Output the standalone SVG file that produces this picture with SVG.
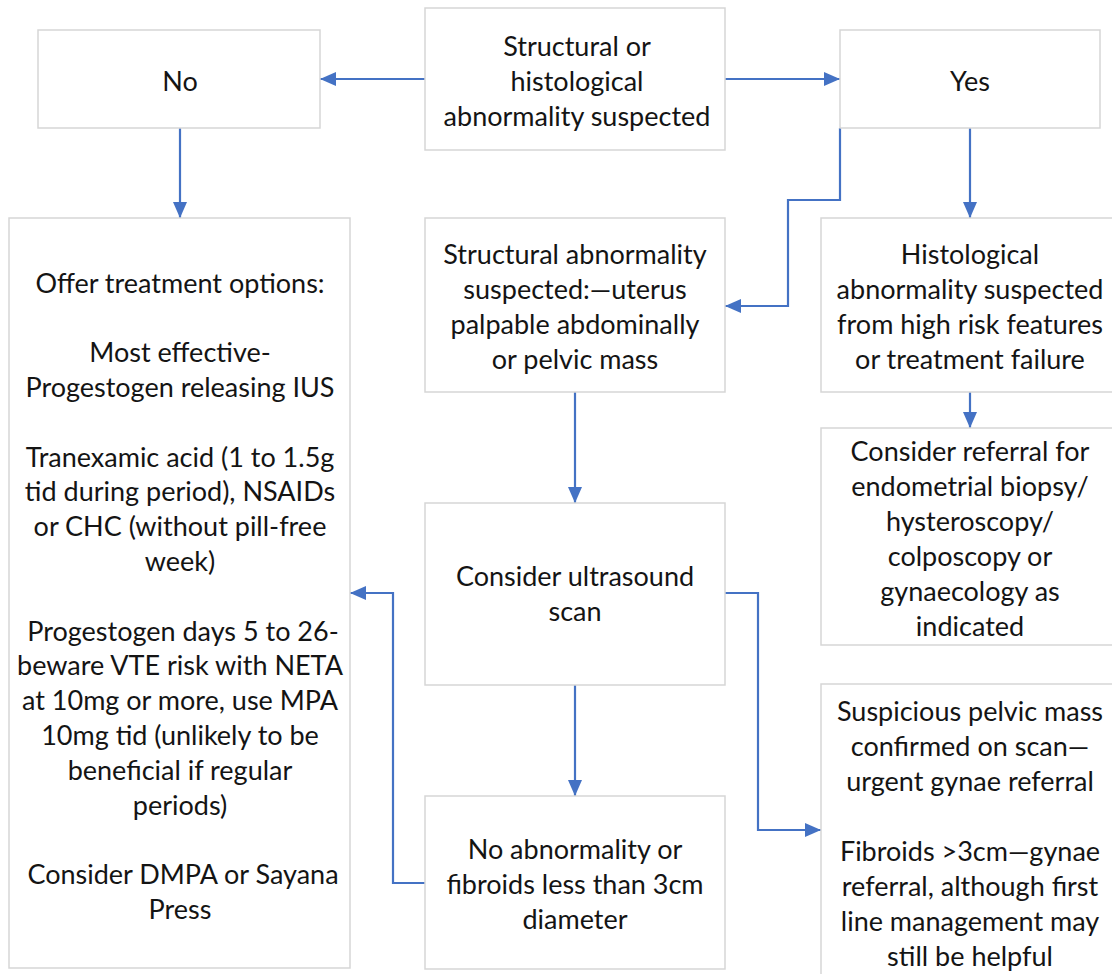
<svg xmlns="http://www.w3.org/2000/svg" width="1112" height="974" viewBox="0 0 1112 974">
<defs>
<style>
.box{fill:#ffffff;stroke:#d6d6d6;stroke-width:1.5}
.t{font-family:Lato,"Liberation Sans",sans-serif;font-size:27px;fill:#141414;text-anchor:middle;dominant-baseline:central}
.c{fill:none;stroke:#4472c4;stroke-width:2.2;marker-end:url(#ah)}
</style>
<marker id="ah" viewBox="0 0 16 14" refX="16" refY="7" markerWidth="16" markerHeight="14" markerUnits="userSpaceOnUse" orient="auto">
<path d="M0,0 L16,7 L0,14 z" fill="#4472c4"/>
</marker>
</defs>
<rect width="1112" height="974" fill="#ffffff"/>
<g id="connectors">
<path class="c" d="M425,79 H320"/>
<path class="c" d="M725,79 H840"/>
<path class="c" d="M180,128 V218"/>
<path class="c" d="M970,128 V218"/>
<path class="c" d="M840,128 V200 H788 V306 H725"/>
<path class="c" d="M575,392 V503"/>
<path class="c" d="M575,685 V796"/>
<path class="c" d="M970,392 V428"/>
<path class="c" d="M425,883 H393 V593 H350"/>
<path class="c" d="M725,593 H758 V830 H821"/>
</g>
<g id="n-start">
<rect class="box" x="425" y="8" width="300" height="142"/>
<text class="t" x="577" y="45">Structural or</text>
<text class="t" x="577" y="80">histological</text>
<text class="t" x="577" y="115">abnormality suspected</text>
</g>
<g id="n-no">
<rect class="box" x="38" y="30" width="282" height="98"/>
<text class="t" x="180" y="80">No</text>
</g>
<g id="n-yes">
<rect class="box" x="840" y="30" width="260" height="98"/>
<text class="t" x="970" y="80">Yes</text>
</g>
<g id="n-treatment">
<rect class="box" x="9" y="218" width="341" height="750"/>
<text class="t" x="180" y="282">Offer treatment options:</text>
<text class="t" x="180" y="351.6">Most effective-</text>
<text class="t" x="180" y="386.4">Progestogen releasing IUS</text>
<text class="t" x="180" y="456">Tranexamic acid (1 to 1.5g</text>
<text class="t" x="180" y="490.8">tid during period), NSAIDs</text>
<text class="t" x="180" y="525.6">or CHC (without pill-free</text>
<text class="t" x="180" y="560.4">week)</text>
<text class="t" x="183" y="630">Progestogen days 5 to 26-</text>
<text class="t" x="180" y="664.8">beware VTE risk with NETA</text>
<text class="t" x="180" y="699.6">at 10mg or more, use MPA</text>
<text class="t" x="180" y="734.4">10mg tid (unlikely to be</text>
<text class="t" x="180" y="769.2">beneficial if regular</text>
<text class="t" x="180" y="804">periods)</text>
<text class="t" x="183" y="873.6">Consider DMPA or Sayana</text>
<text class="t" x="180" y="908.4">Press</text>
</g>
<g id="n-structural">
<rect class="box" x="425" y="218" width="300" height="174"/>
<text class="t" x="575" y="253">Structural abnormality</text>
<text class="t" x="575" y="288">suspected:—uterus</text>
<text class="t" x="575" y="323">palpable abdominally</text>
<text class="t" x="575" y="358">or pelvic mass</text>
</g>
<g id="n-histological">
<rect class="box" x="821" y="218" width="300" height="174"/>
<text class="t" x="970" y="253">Histological</text>
<text class="t" x="970" y="288">abnormality suspected</text>
<text class="t" x="970" y="323">from high risk features</text>
<text class="t" x="970" y="358">or treatment failure</text>
</g>
<g id="n-referral">
<rect class="box" x="821" y="428" width="300" height="217"/>
<text class="t" x="970" y="450">Consider referral for</text>
<text class="t" x="970" y="485">endometrial biopsy/</text>
<text class="t" x="970" y="520">hysteroscopy/</text>
<text class="t" x="970" y="555">colposcopy or</text>
<text class="t" x="970" y="590">gynaecology as</text>
<text class="t" x="970" y="625">indicated</text>
</g>
<g id="n-ultrasound">
<rect class="box" x="425" y="503" width="300" height="182"/>
<text class="t" x="575" y="575">Consider ultrasound</text>
<text class="t" x="575" y="610">scan</text>
</g>
<g id="n-noabn">
<rect class="box" x="425" y="796" width="300" height="173"/>
<text class="t" x="575" y="848">No abnormality or</text>
<text class="t" x="575" y="883">fibroids less than 3cm</text>
<text class="t" x="575" y="918">diameter</text>
</g>
<g id="n-suspicious">
<rect class="box" x="821" y="684" width="300" height="310"/>
<text class="t" x="970" y="710">Suspicious pelvic mass</text>
<text class="t" x="970" y="745">confirmed on scan—</text>
<text class="t" x="970" y="780">urgent gynae referral</text>
<text class="t" x="970" y="850">Fibroids &gt;3cm—gynae</text>
<text class="t" x="970" y="885">referral, although first</text>
<text class="t" x="970" y="920">line management may</text>
<text class="t" x="970" y="955">still be helpful</text>
</g>
</svg>
